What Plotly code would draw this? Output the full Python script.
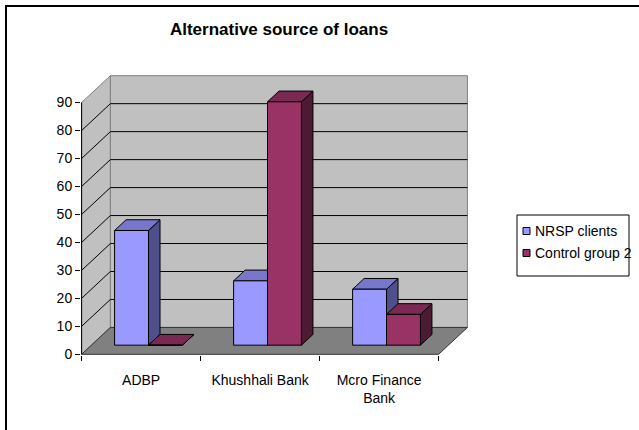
import plotly.graph_objects as go

# ---- data ----
categories = ["ADBP", "Khushhali Bank", "Mcro Finance<br>Bank"]
series_names = ["NRSP clients", "Control group 2"]
nrsp_values = [41, 23, 20]
control_values = [0, 87, 11]
y_tick_values = [0, 10, 20, 30, 40, 50, 60, 70, 80, 90]

# ---- styling / geometry ----
FONT = "Liberation Sans, Arial, sans-serif"
DX = 0.242      # depth shift in category units
DY = 9.6        # depth shift in value units
F1, F2 = 0.34, 0.74
BW = 0.285
SHIFT = -0.02
VMAX = 90
face_cols = [("#9999FF", "#7777CC", "#4F4F8C"), ("#993366", "#7A2952", "#4D1A33")]
WALL = "#C0C0C0"
FLOOR = "#808080"

W, H = 639, 430
PL, PR, PT, PB = 81, 468, 75, 355
XR = [-0.505, 2.5 + DX + 0.005]
YR = [-0.25, VMAX + DY + 0.25]


def P(x, v, f):
    return (x + f * DX, v + f * DY)


def poly(pts, fill, line="black", width=1):
    xs = [p[0] for p in pts] + [pts[0][0]]
    ys = [p[1] for p in pts] + [pts[0][1]]
    return go.Scatter(x=xs, y=ys, mode="lines", fill="toself", fillcolor=fill,
                      line=dict(color=line, width=width), hoverinfo="skip",
                      showlegend=False)


def seg_trace(segs, color, width=1):
    xs, ys = [], []
    for s in segs:
        for p in s:
            xs.append(p[0]); ys.append(p[1])
        xs.append(None); ys.append(None)
    return go.Scatter(x=xs, y=ys, mode="lines", line=dict(color=color, width=width),
                      hoverinfo="skip", showlegend=False)


fig = go.Figure()
x0, x1 = -0.5, len(categories) - 0.5

# walls and floor
fig.add_trace(poly([P(x0, 0, 0), P(x0, VMAX, 0), P(x0, VMAX, 1), P(x0, 0, 1)], WALL, "#808080"))
fig.add_trace(poly([P(x0, 0, 1), P(x1, 0, 1), P(x1, VMAX, 1), P(x0, VMAX, 1)], WALL, "#808080"))
# gridlines
grid = []
for v in y_tick_values[1:-1]:
    grid.append([P(x0, v, 0), P(x0, v, 1), P(x1, v, 1)])
fig.add_trace(seg_trace(grid, "black", 1))
fig.add_trace(poly([P(x0, 0, 0), P(x1, 0, 0), P(x1, 0, 1), P(x0, 0, 1)], FLOOR, "#333333"))
# front value axis line
fig.add_trace(seg_trace([[P(x0, 0, 0), P(x0, VMAX, 0)]], "black", 1))

# bars
all_vals = [nrsp_values, control_values]
for i in range(len(categories)):
    for s, vals in enumerate(all_vals):
        v = vals[i]
        xl = i + SHIFT - BW + s * BW
        xr = xl + BW
        fc, tc, sc = face_cols[s]
        fig.add_trace(poly([P(xr, 0, F1), P(xr, v, F1), P(xr, v, F2), P(xr, 0, F2)], sc))
        fig.add_trace(poly([P(xl, v, F1), P(xr, v, F1), P(xr, v, F2), P(xl, v, F2)], tc))
        fig.add_trace(poly([P(xl, 0, F1), P(xr, 0, F1), P(xr, v, F1), P(xl, v, F1)], fc))


def px_x(p):
    return (p - PL) / (PR - PL)


def px_y(p):
    return (PB - p) / (PB - PT)


shapes = []
# outer chart border
shapes.append(dict(type="rect", xref="paper", yref="paper", x0=px_x(6), y0=px_y(6),
                   x1=px_x(700), y1=px_y(500), line=dict(color="black", width=2),
                   fillcolor="rgba(0,0,0,0)", layer="below"))
# legend box
shapes.append(dict(type="rect", xref="paper", yref="paper", x0=px_x(517), y0=px_y(215),
                   x1=px_x(629), y1=px_y(276), line=dict(color="black", width=1),
                   fillcolor="white"))
annotations = []
for k, name in enumerate(series_names):
    cy = 231 + k * 22
    shapes.append(dict(type="rect", xref="paper", yref="paper", x0=px_x(523), y0=px_y(cy - 3.5),
                       x1=px_x(530), y1=px_y(cy + 3.5), line=dict(color="black", width=1),
                       fillcolor=face_cols[k][0]))
    annotations.append(dict(text=name, xref="paper", yref="paper", x=px_x(533), y=px_y(cy),
                            xanchor="left", yanchor="middle", showarrow=False,
                            font=dict(family=FONT, size=14, color="black")))

fig.update_layout(
    width=W, height=H, autosize=False,
    margin=dict(l=PL, r=W - PR, t=PT, b=H - PB, pad=0),
    paper_bgcolor="white", plot_bgcolor="white",
    showlegend=False,
    title=dict(text="Alternative source of loans", x=327 / W, y=1 - 29 / H,
               xanchor="center", yanchor="middle", xref="paper",
               font=dict(family=FONT, size=17, color="black", weight="bold")),
    shapes=shapes, annotations=annotations,
    xaxis=dict(range=XR, showgrid=False, zeroline=False, showline=False,
               tickvals=list(range(len(categories))), ticktext=categories,
               ticks="", ticklabelstandoff=15,
               tickfont=dict(family=FONT, size=14, color="black"),
               minor=dict(tickvals=[x0 + k for k in range(len(categories) + 1)],
                          ticks="outside", ticklen=5, tickcolor="black", tickwidth=1,
                          showgrid=False)),
    yaxis=dict(range=YR, showgrid=False, zeroline=False, showline=False,
               tickvals=y_tick_values, ticks="outside", ticklen=5, tickcolor="black",
               tickfont=dict(family=FONT, size=14, color="black")),
)

fig.write_html("out.html", post_script="document.body.style.margin='0';",
               config={"displayModeBar": False, "staticPlot": True})
